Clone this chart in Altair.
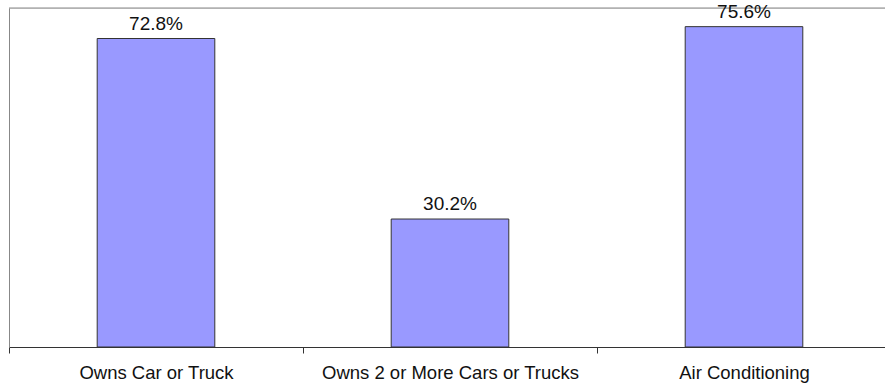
import altair as alt
import pandas as pd

categories = ["Owns Car or Truck", "Owns 2 or More Cars or Trucks", "Air Conditioning"]
values = [72.8, 30.2, 75.6]

df = pd.DataFrame({"category": categories, "value": values})

FONT = "Liberation Sans"
STEP = 294

x_enc = alt.X(
    "category:N",
    sort=None,
    title=None,
    scale=alt.Scale(range=[0, 882], paddingInner=0.6, paddingOuter=0.3),
    axis=alt.Axis(
        labelAngle=0,
        labelFont=FONT,
        labelFontSize=18.5,
        labelColor="#111111",
        labelPadding=10,
        labelLimit=0,
        domainColor="#333333",
        tickColor="#333333",
        tickSize=6,
        tickOffset=-STEP / 2,
        labelOffset=STEP / 2,
        grid=False,
    ),
)
y_enc = alt.Y(
    "value:Q",
    title=None,
    scale=alt.Scale(domain=[0, 80], nice=False),
    axis=alt.Axis(labels=False, ticks=False, grid=False, domainColor="#888888"),
)

base = alt.Chart(df)

bars = base.mark_bar(fill="#9999FF", stroke="#333333", strokeWidth=1).encode(x=x_enc, y=y_enc)

text = base.transform_calculate(
    label="format(datum.value, '.1f') + '%'"
).mark_text(
    baseline="alphabetic", dy=-9, font=FONT, fontSize=19, color="#111111"
).encode(x=x_enc, y=y_enc, text="label:N")

top = alt.Chart(pd.DataFrame({"v": [80]})).mark_rule(color="#888888", strokeWidth=1).encode(y="v:Q")

chart = alt.layer(top, bars, text).properties(
    width=876,
    height=339,
    autosize=alt.AutoSizeParams(type="none"),
    padding={"left": 9, "top": 8, "right": 0, "bottom": 38},
).configure_view(stroke=None).configure(background="white")

chart.save("out.html", embed_options={"renderer": "svg", "actions": False})
